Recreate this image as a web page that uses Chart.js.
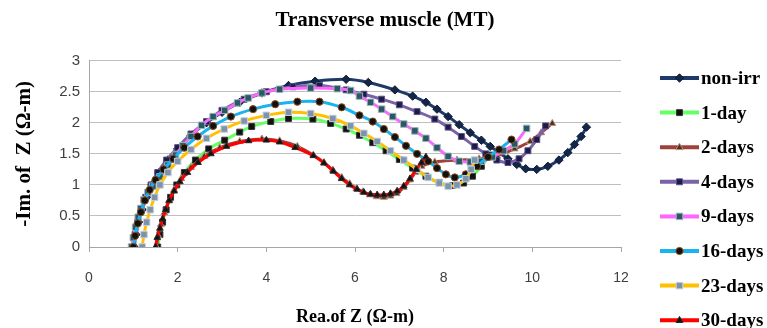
<!DOCTYPE html>
<html>
<head>
<meta charset="utf-8">
<script src="https://cdn.jsdelivr.net/npm/chart.js@4.4.1/dist/chart.umd.min.js"></script>
<style>
  html, body { margin: 0; padding: 0; background: #fff; }
</style>
</head>
<body>
<canvas id="myChart" width="767" height="328"></canvas>
<script>
// Nyquist plot values: [Re Z, -Im Z] in ohm-m
const seriesNames = ['non-irr', '1-day', '2-days', '4-days', '9-days', '16-days', '23-days', '30-days'];

const nonIrr = [[1.02,0],[1.06,0.2],[1.12,0.4],[1.2,0.6],[1.3,0.8],[1.42,1.0],[1.58,1.2],[1.78,1.4],[2.0,1.58],[2.3,1.8],[2.65,2.0],[3.0,2.17],[3.4,2.33],[3.9,2.48],[4.5,2.6],[5.1,2.67],[5.8,2.7],[6.3,2.65],[6.9,2.53],[7.3,2.43],[7.6,2.33],[7.85,2.22],[8.1,2.1],[8.35,1.97],[8.6,1.84],[8.85,1.72],[9.05,1.62],[9.25,1.52],[9.45,1.42],[9.65,1.33],[9.85,1.26],[10.1,1.25],[10.35,1.3],[10.6,1.4],[10.8,1.52],[10.95,1.65],[11.1,1.78],[11.22,1.93]];

const day1 = [[1.55,0],[1.6,0.2],[1.66,0.4],[1.74,0.6],[1.84,0.8],[1.98,1.0],[2.15,1.2],[2.4,1.4],[2.7,1.58],[3.06,1.72],[3.4,1.85],[3.67,1.94],[4.1,2.02],[4.5,2.07],[5.05,2.06],[5.45,1.99],[5.8,1.9],[6.1,1.8],[6.4,1.68],[6.7,1.55],[7.0,1.41],[7.3,1.27],[7.6,1.14],[7.9,1.04],[8.2,0.99],[8.45,1.03],[8.65,1.14],[8.85,1.3],[9.05,1.48]];

const days2 = [[1.52,0],[1.56,0.18],[1.62,0.36],[1.7,0.55],[1.8,0.74],[1.92,0.92],[2.08,1.1],[2.3,1.28],[2.6,1.46],[2.95,1.6],[3.4,1.7],[3.9,1.74],[4.3,1.71],[4.7,1.62],[5.06,1.48],[5.3,1.36],[5.5,1.24],[5.7,1.12],[5.88,1.02],[6.03,0.94],[6.18,0.89],[6.33,0.84],[6.49,0.81],[6.65,0.8],[6.8,0.82],[6.94,0.86],[7.1,0.96],[7.24,1.08],[7.36,1.2],[7.5,1.3],[7.8,1.37],[8.3,1.4],[8.8,1.42],[9.2,1.47],[9.6,1.58],[9.95,1.7],[10.2,1.84],[10.45,1.99]];

const days4 = [[1.0,0],[1.04,0.2],[1.1,0.4],[1.18,0.6],[1.28,0.8],[1.4,1.0],[1.55,1.2],[1.75,1.4],[2.0,1.6],[2.3,1.82],[2.65,2.02],[3.0,2.2],[3.5,2.38],[4.0,2.5],[4.6,2.58],[5.2,2.6],[5.8,2.53],[6.2,2.46],[6.6,2.38],[7.0,2.29],[7.4,2.18],[7.8,2.06],[8.1,1.93],[8.4,1.78],[8.7,1.62],[8.95,1.5],[9.2,1.4],[9.45,1.36],[9.7,1.42],[9.9,1.55],[10.1,1.73],[10.3,1.95]];

const days9 = [[0.96,0],[1.0,0.15],[1.05,0.32],[1.11,0.48],[1.17,0.62],[1.24,0.76],[1.33,0.88],[1.44,0.98],[1.6,1.13],[1.78,1.32],[1.95,1.48],[2.12,1.63],[2.3,1.78],[2.54,1.96],[2.8,2.1],[3.06,2.2],[3.35,2.32],[3.59,2.4],[3.9,2.48],[4.3,2.54],[5.0,2.56],[5.6,2.55],[5.9,2.52],[6.1,2.43],[6.35,2.33],[6.6,2.22],[6.85,2.1],[7.1,1.98],[7.35,1.87],[7.6,1.75],[7.85,1.6],[8.1,1.46],[8.35,1.38],[8.6,1.37],[8.85,1.38],[9.1,1.45],[9.35,1.55],[9.6,1.66],[9.87,1.91]];

const days16 = [[1.0,0],[1.04,0.18],[1.1,0.38],[1.17,0.56],[1.26,0.75],[1.37,0.92],[1.5,1.08],[1.68,1.25],[1.9,1.42],[2.15,1.6],[2.45,1.78],[2.8,1.95],[3.2,2.1],[3.7,2.22],[4.2,2.3],[4.7,2.34],[5.2,2.34],[5.7,2.25],[6.1,2.12],[6.4,2.02],[6.65,1.9],[6.9,1.77],[7.15,1.63],[7.4,1.5],[7.65,1.38],[7.85,1.27],[8.05,1.17],[8.25,1.12],[8.5,1.17],[8.75,1.3],[9.0,1.45],[9.25,1.57],[9.53,1.73]];

const days23 = [[1.2,0],[1.24,0.2],[1.3,0.4],[1.38,0.6],[1.48,0.8],[1.6,1.0],[1.78,1.2],[2.0,1.38],[2.3,1.57],[2.65,1.75],[3.05,1.9],[3.5,2.03],[4.0,2.12],[4.5,2.17],[5.0,2.15],[5.5,2.07],[5.9,1.95],[6.2,1.83],[6.5,1.7],[6.8,1.55],[7.1,1.4],[7.4,1.25],[7.65,1.12],[7.9,1.03],[8.1,0.98],[8.3,1.0],[8.5,1.1],[8.62,1.25],[8.7,1.4]];

const days30 = [[1.5,0],[1.54,0.15],[1.6,0.3],[1.66,0.45],[1.73,0.6],[1.81,0.75],[1.92,0.9],[2.05,1.05],[2.22,1.2],[2.46,1.36],[2.75,1.5],[3.1,1.62],[3.6,1.71],[4.0,1.72],[4.3,1.69],[4.65,1.6],[5.06,1.47],[5.3,1.35],[5.51,1.22],[5.7,1.1],[5.88,1.0],[6.05,0.93],[6.2,0.88],[6.35,0.85],[6.5,0.84],[6.65,0.84],[6.8,0.86],[6.95,0.9],[7.1,0.98],[7.24,1.1],[7.38,1.25],[7.5,1.36],[7.6,1.45]];

const seriesData = [nonIrr, day1, days2, days4, days9, days16, days23, days30];

const xTicks = [0, 2, 4, 6, 8, 10, 12];
const yTicks = [0, 0.5, 1, 1.5, 2, 2.5, 3];

// look of each series (Excel style line + marker)
const styles = [
    { line: '#1f3a68', pt: 'rectRot',  fill: '#132648', edge: '#0b1a33', r: 4.2 },
    { line: '#66ff66', pt: 'rect',     fill: '#101010', edge: '#3a3a3a', r: 4.2 },
    { line: '#a0403c', pt: 'triangle', fill: '#3c3c18', edge: '#c48884', r: 4.0 },
    { line: '#7b63a8', pt: 'rect',     fill: '#1b1b48', edge: '#5d5088', r: 4.2 },
    { line: '#ff66ff', pt: 'rect',     fill: '#2b5763', edge: '#9db4be', r: 4.6 },
    { line: '#19b3f0', pt: 'circle',   fill: '#111111', edge: '#8a4a1a', r: 3.6 },
    { line: '#ffc000', pt: 'rect',     fill: '#7d93ab', edge: '#c4d0dc', r: 4.6 },
    { line: '#ff0000', pt: 'triangle', fill: '#111111', edge: '#2a2a2a', r: 3.8 }
];

const serif = "'Liberation Serif', 'Times New Roman', serif";
const sans = "'Liberation Sans', Arial, sans-serif";

function drawMarker(ctx, s, x, y) {
    const r = s.r;
    ctx.save();
    ctx.fillStyle = s.fill;
    ctx.strokeStyle = s.edge;
    ctx.lineWidth = 1;
    ctx.beginPath();
    if (s.pt === 'circle') {
        ctx.arc(x, y, r, 0, Math.PI * 2);
    } else if (s.pt === 'rect') {
        const h = r * Math.SQRT1_2;
        ctx.rect(x - h, y - h, 2 * h, 2 * h);
    } else if (s.pt === 'rectRot') {
        ctx.moveTo(x, y - r); ctx.lineTo(x + r, y); ctx.lineTo(x, y + r); ctx.lineTo(x - r, y);
        ctx.closePath();
    } else {
        ctx.moveTo(x, y - r); ctx.lineTo(x + r * 0.9, y + r * 0.6); ctx.lineTo(x - r * 0.9, y + r * 0.6);
        ctx.closePath();
    }
    ctx.fill();
    ctx.stroke();
    ctx.restore();
}

// title + legend with line/marker samples, as in Excel
const sideLegend = {
    id: 'sideLegend',
    afterDraw(chart) {
        const ctx = chart.ctx;
        ctx.save();
        ctx.fillStyle = '#000';
        ctx.font = 'bold 21px ' + serif;
        ctx.textAlign = 'center';
        ctx.textBaseline = 'middle';
        ctx.fillText('Transverse muscle (MT)', 385, 21);
        ctx.restore();

        chart.data.datasets.forEach((ds, i) => {
            const s = styles[i];
            const y = 78 + i * 34.6;
            ctx.save();
            ctx.strokeStyle = s.line;
            ctx.lineWidth = 4;
            ctx.beginPath();
            ctx.moveTo(660, y);
            ctx.lineTo(699, y);
            ctx.stroke();
            drawMarker(ctx, s, 679.5, y);
            ctx.fillStyle = '#000';
            ctx.font = 'bold 19px ' + serif;
            ctx.textBaseline = 'middle';
            ctx.textAlign = 'left';
            ctx.fillText(ds.label, 701, y + 1);
            ctx.restore();
        });
    }
};

var ctx = document.getElementById('myChart');
var myChart = new Chart(ctx, {
    type: 'scatter',
    data: {
        datasets: seriesNames.map((name, i) => ({
            label: name,
            data: seriesData[i].map(p => ({ x: p[0], y: p[1] })),
            showLine: true,
            tension: 0.35,
            borderColor: styles[i].line,
            borderWidth: 3,
            pointStyle: styles[i].pt,
            pointRadius: styles[i].r,
            pointBackgroundColor: styles[i].fill,
            pointBorderColor: styles[i].edge,
            pointBorderWidth: 1,
            order: seriesNames.length - i
        }))
    },
    options: {
        responsive: false,
        animation: false,
        layout: {
            padding: { left: 0, right: 146, top: 60.7, bottom: 0 }
        },
        plugins: {
            legend: { display: false },
            tooltip: { enabled: false },
            title: { display: false }
        },
        scales: {
            x: {
                type: 'linear',
                min: 0,
                max: 12,
                afterBuildTicks: (scale) => { scale.ticks = xTicks.map(v => ({ value: v })); },
                afterFit: (scale) => { scale.height = 81; },
                ticks: { color: '#404040', font: { family: sans, size: 14 }, padding: 18, callback: (v) => String(v) },
                grid: { drawOnChartArea: false, drawTicks: true, tickLength: 5, color: '#a6a6a6' },
                border: { display: true, color: '#a6a6a6' },
                title: {
                    display: true,
                    text: 'Rea.of Z (Ω-m)',
                    color: '#000',
                    font: { family: serif, size: 18, weight: 'bold' },
                    padding: { top: 0, bottom: 0 }
                }
            },
            y: {
                min: 0,
                max: 3,
                afterBuildTicks: (scale) => { scale.ticks = yTicks.map(v => ({ value: v })); },
                afterFit: (scale) => { scale.width = 89; },
                ticks: { color: '#404040', font: { family: sans, size: 15 }, padding: 9, callback: (v) => String(v) },
                grid: { color: '#bfbfbf', drawTicks: false },
                border: { display: true, color: '#a6a6a6' },
                title: {
                    display: true,
                    text: '-Im. of  Z (Ω-m)',
                    color: '#000',
                    font: { family: serif, size: 21, weight: 'bold' },
                    padding: { top: 12, bottom: 4 }
                }
            }
        }
    },
    plugins: [sideLegend]
});
</script>
</body>
</html>
